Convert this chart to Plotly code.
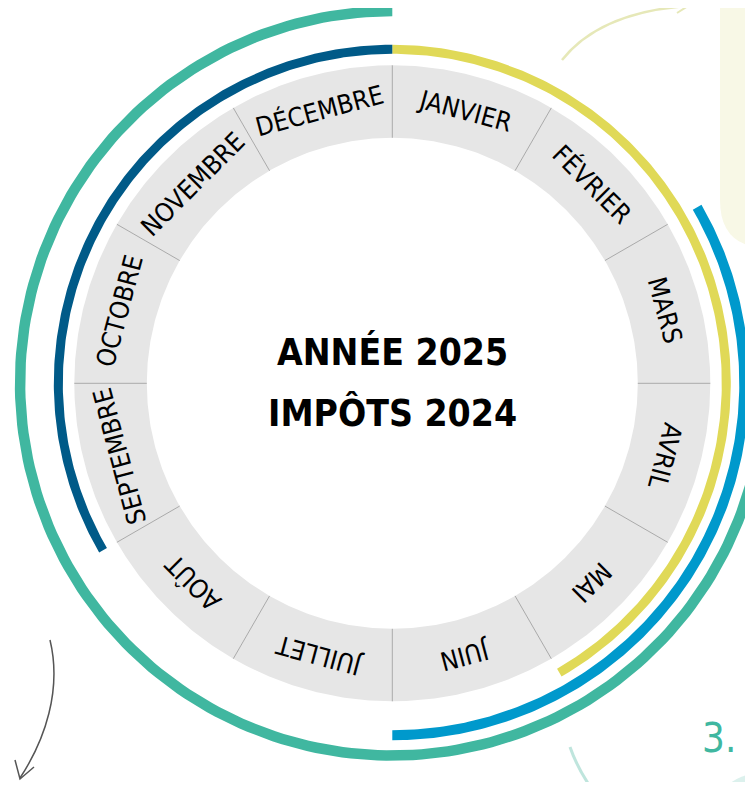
import numpy as np
import plotly.graph_objects as go

# ---------------- data ----------------
months = ["JANVIER", "FÉVRIER", "MARS", "AVRIL", "MAI", "JUIN",
          "JUILLET", "AOÛT", "SEPTEMBRE", "OCTOBRE", "NOVEMBRE", "DÉCEMBRE"]
center_title = ["ANNÉE 2025", "IMPÔTS 2024"]

# periods drawn as arcs around the calendar (month index start, end-exclusive)
arc_names = ["Janvier – Mai", "Septembre – Décembre", "Mars – Juin", "Avril – Décembre"]
arc_start = [0, 8, 2, 3]
arc_end = [5, 12, 6, 12]
arc_track = [1, 1, 2, 3]

# ---------------- styles ----------------
PAGE_W, PAGE_H = 753, 790
OFF = 8                          # default body margin of the html page
W, H = PAGE_W - 2 * OFF, PAGE_H - 2 * OFF
CX, CY = 392.3, 383.3            # page-pixel position of the circle centre
FX, FY = CX - OFF, CY - OFF      # same in figure pixels
arc_colors = ["#e0d957", "#005a88", "#0099cc", "#40b7a0"]
track_radii = {1: (329.5, 338.5), 2: (347.0, 357.0), 3: (367.0, 377.5)}
RING_IN, RING_OUT = 245.5, 318.0
LABEL_R = 282.0
FONT = "DejaVu Sans Condensed, Liberation Sans Narrow, sans-serif"


def px(x, y):
    """page pixel -> data coordinates"""
    return x - CX, CY - y


def sector(a0, a1, r0, r1, n=120):
    t = np.radians(np.linspace(a0, a1, n))
    xo, yo = r1 * np.sin(t), r1 * np.cos(t)
    xi, yi = r0 * np.sin(t[::-1]), r0 * np.cos(t[::-1])
    return (np.concatenate([xo, xi, xo[:1]]), np.concatenate([yo, yi, yo[:1]]))


fig = go.Figure()
step = 360 / len(months)

# grey month ring
for i, m in enumerate(months):
    xs, ys = sector(i * step, (i + 1) * step, RING_IN, RING_OUT, 60)
    fig.add_trace(go.Scatter(x=xs, y=ys, mode="lines", fill="toself",
                             fillcolor="#e6e6e6", line=dict(width=0),
                             name=m, hoverinfo="name", showlegend=False))

# separators between months
sx, sy = [], []
for i in range(len(months)):
    t = np.radians(i * step)
    sx += [RING_IN * np.sin(t), RING_OUT * np.sin(t), None]
    sy += [RING_IN * np.cos(t), RING_OUT * np.cos(t), None]
fig.add_trace(go.Scatter(x=sx, y=sy, mode="lines", line=dict(color="#a9a9a9", width=1),
                         hoverinfo="skip", showlegend=False))

# period arcs
for name, s, e, tr, col in zip(arc_names, arc_start, arc_end, arc_track, arc_colors):
    r0, r1 = track_radii[tr]
    xs, ys = sector(s * step, e * step, r0, r1, 200)
    fig.add_trace(go.Scatter(x=xs, y=ys, mode="lines", fill="toself",
                             fillcolor=col, line=dict(width=0),
                             name=name, hoverinfo="name", showlegend=False))

# month labels
ann = []
for i, m in enumerate(months):
    a = i * step + step / 2
    t = np.radians(a)
    ann.append(dict(x=LABEL_R * np.sin(t), y=LABEL_R * np.cos(t), text=m,
                    showarrow=False, textangle=a if a <= 180 else a - 360,
                    font=dict(family=FONT, size=26, color="#000000"),
                    xanchor="center", yanchor="middle"))

# centre title (two lines)
for line, py in zip(center_title, [352, 413]):
    xx, yy = px(CX, py)
    ann.append(dict(x=xx, y=yy, text="<b>" + line + "</b>", showarrow=False,
                    font=dict(family=FONT, size=37, color="#000000"),
                    xanchor="center", yanchor="middle"))

# decorative "3."
x3, y3 = px(719, 738)
ann.append(dict(x=x3, y=y3, text="3.", showarrow=False,
                font=dict(family=FONT, size=40, color="#40b7a0")))

shapes = []


def path(points, closed=False):
    d = ""
    for cmd, pts in points:
        d += cmd + " " + " ".join(f"{px(x, y)[0]:.1f},{px(x, y)[1]:.1f}" for x, y in pts) + " "
    if closed:
        d += "Z"
    return d


# pale yellow panel top-right
shapes.append(dict(type="path", layer="below",
                   path=path([("M", [(720, -10)]), ("L", [(720, 200)]),
                              ("Q", [(720, 248), (768, 248)]), ("L", [(768, -10)])], True),
                   fillcolor="#f8f8e6", line=dict(width=0)))
# pale teal blob bottom-right
bx0, by0 = px(702, 772)
bx1, by1 = px(830, 900)
shapes.append(dict(type="circle", layer="below", x0=bx0, y0=by0, x1=bx1, y1=by1,
                   fillcolor="#dcf1ed", line=dict(width=0)))
# chalk arrow at top
shapes.append(dict(type="path", path=path([("M", [(562, 60)]),
                                            ("Q", [(600, 12), (688, 6)])]),
                   line=dict(color="#e6e8b8", width=2.5)))
shapes.append(dict(type="path", path=path([("M", [(676, 0)]), ("L", [(688, 6)]),
                                            ("L", [(677, 13)])]),
                   line=dict(color="#e6e8b8", width=2)))
# pencil arrow bottom-left
shapes.append(dict(type="path", path=path([("M", [(50, 640)]),
                                            ("C", [(62, 690), (45, 740), (20, 778)])]),
                   line=dict(color="#555555", width=1.5)))
shapes.append(dict(type="path", path=path([("M", [(15, 760)]), ("L", [(20, 779)]),
                                            ("L", [(34, 767)])]),
                   line=dict(color="#555555", width=1.5)))
# teal brush stroke bottom
shapes.append(dict(type="path", path=path([("M", [(570, 747)]),
                                            ("Q", [(578, 770), (594, 792)])]),
                   line=dict(color="#bfe5dd", width=3)))

fig.update_layout(
    width=W, height=H, margin=dict(l=0, r=0, t=0, b=0),
    paper_bgcolor="white", plot_bgcolor="white",
    xaxis=dict(range=[-FX, W - FX], visible=False, fixedrange=True),
    yaxis=dict(range=[FY - H, FY], visible=False, fixedrange=True),
    annotations=ann, shapes=shapes, showlegend=False,
)

fig.write_html("out.html")
